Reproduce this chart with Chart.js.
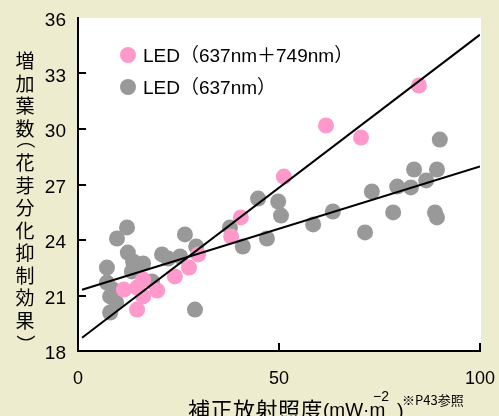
<!DOCTYPE html>
<html><head><meta charset="utf-8">
<script src="https://cdn.jsdelivr.net/npm/chart.js@4/dist/chart.umd.min.js"></script>
<style>
html,body{margin:0;padding:0;background:#EEECCE;overflow:hidden;}
#wrap{width:499px;height:416px;position:relative;}
canvas{display:block;}
</style></head><body>
<div id="wrap"><canvas id="c" width="499" height="416"></canvas></div>
<script>
// ---- data ----
const seriesLabels = ['LED（637nm＋749nm）', 'LED（637nm）'];
const pinkX = [11.4, 14.7, 14.7, 16.2, 16.2, 19.7, 24.1, 27.6, 29.9, 38.1, 40.5, 51.2, 61.7, 70.4, 84.8];
const pinkY = [21.32, 20.24, 21.43, 21.86, 20.95, 21.27, 22.03, 22.51, 23.22, 24.19, 25.22, 27.43, 30.19, 29.54, 32.35];
const grayX = [7.2, 7.2, 8.0, 8.7, 8.0, 9.5, 9.7, 12.2, 12.4, 13.7, 13.4, 16.2, 18.4, 20.9, 22.4, 25.4, 26.6, 29.4, 29.1,
               37.8, 41.0, 44.8, 49.8, 50.5, 47.0, 58.5, 63.4, 71.4, 73.1, 78.4, 79.4, 82.8, 83.6, 86.6, 89.3, 90.0, 88.8, 89.3];
const grayY = [22.51, 21.70, 20.95, 21.32, 20.08, 20.62, 24.08, 24.68, 23.32, 22.84, 22.30, 22.73, 21.76, 23.22, 23.00, 23.11, 24.30, 23.65, 20.24,
               24.68, 23.65, 26.24, 26.08, 25.32, 24.08, 24.84, 25.54, 24.41, 26.62, 25.49, 26.89, 26.84, 27.81, 27.22, 27.81, 29.43, 25.49, 25.22];
const pinkFitX = [1, 100];
const pinkFitY = [18.72, 35.10];
const grayFitX = [1, 100];
const grayFitY = [21.31, 27.97];
const xTicks = [0, 50, 100];
const yTicks = [18, 21, 24, 27, 30, 33, 36];
const yTitle = '増加葉数（花芽分化抑制効果）';
const xTitleMain = '補正放射照度';
const xTitleUnit = '(mW·m';
const xTitleSup = '−2';
const xTitleClose = ')';
const xTitleNote = '※P43参照';

// ---- styles ----
const PINK = '#FF99CC';
const GRAY = '#999999';
const BG = '#EEECCE';
const LATIN = '"Liberation Sans", Arial, "Noto Sans CJK JP", sans-serif';
const CJK = '"Noto Sans CJK JP", "Liberation Sans", sans-serif';

const pts = (xs, ys) => xs.map((x, i) => ({x: x, y: ys[i]}));

const decor = {
  id: 'decor',
  beforeDraw(chart) {
    const {ctx, chartArea: a} = chart;
    ctx.save();
    ctx.fillStyle = BG;
    ctx.fillRect(0, 0, chart.width, chart.height);
    ctx.fillStyle = '#FFFFFF';
    ctx.fillRect(a.left, a.top, a.right - a.left + 1, a.bottom - a.top);
    ctx.restore();
  },
  afterDraw(chart) {
    const {ctx, chartArea: a, scales} = chart;
    const xs = scales.x, ys = scales.y;
    ctx.save();
    // inward tick marks
    ctx.strokeStyle = '#000';
    ctx.lineWidth = 2;
    ctx.beginPath();
    yTicks.forEach(v => {
      if (v <= ys.min || v >= ys.max) return;
      const py = Math.round(ys.getPixelForValue(v));
      ctx.moveTo(a.left, py); ctx.lineTo(a.left + 8, py);
    });
    xTicks.forEach(v => {
      if (v <= xs.min) return;
      const px = Math.round(xs.getPixelForValue(v));
      ctx.moveTo(px, a.bottom); ctx.lineTo(px, a.bottom - 8);
    });
    ctx.stroke();

    // legend
    const ds = chart.data.datasets;
    const legendRows = [{i: 0, cy: 55}, {i: 1, cy: 87}];
    legendRows.forEach(r => {
      ctx.fillStyle = ds[r.i].backgroundColor;
      ctx.beginPath(); ctx.arc(128, r.cy, 8, 0, Math.PI * 2); ctx.fill();
      ctx.fillStyle = '#000';
      ctx.font = '19px ' + LATIN;
      ctx.textAlign = 'left';
      ctx.textBaseline = 'alphabetic';
      ctx.fillText(ds[r.i].label, 143, r.cy + 7);
    });

    // vertical y title
    ctx.font = '19px ' + CJK;
    ctx.fillStyle = '#000';
    ctx.textAlign = 'center';
    ctx.textBaseline = 'middle';
    let y = 61;
    const chars = Array.from(yTitle);
    chars.forEach((ch, k) => {
      const isParen = (ch === '（' || ch === '）');
      if (isParen) {
        const m = ctx.measureText(ch);
        const inkCenter = (m.actualBoundingBoxRight - m.actualBoundingBoxLeft) / 2;
        const pc = (k === 0) ? y : y - 22.5 / 2 + 6;
        ctx.save();
        ctx.translate(25, pc);
        ctx.rotate(Math.PI / 2);
        ctx.fillText(ch, -inkCenter, 0);
        ctx.restore();
        y = pc + 6 + 22.5 / 2;
      } else {
        ctx.fillText(ch, 25, y);
        y += 22.5;
      }
    });

    // x title
    ctx.textAlign = 'left';
    ctx.textBaseline = 'alphabetic';
    ctx.font = '22px ' + CJK;
    ctx.letterSpacing = '0.5px';
    ctx.fillText(xTitleMain, 188, 418);
    ctx.letterSpacing = '0px';
    ctx.font = '19px ' + LATIN;
    ctx.fillText(xTitleUnit, 323, 416);
    ctx.font = '14px ' + LATIN;
    ctx.fillText(xTitleSup, 373, 401);
    ctx.font = '20px ' + LATIN;
    ctx.fillText(xTitleClose, 397, 418);
    ctx.font = '13px ' + CJK;
    ctx.fillText(xTitleNote, 402, 405);
    ctx.restore();
  }
};

new Chart(document.getElementById('c'), {
  type: 'scatter',
  data: {
    datasets: [
      {label: seriesLabels[0], data: pts(pinkX, pinkY), backgroundColor: PINK, borderColor: PINK,
       pointRadius: 8, pointHoverRadius: 8, pointBorderWidth: 0, order: 2},
      {label: seriesLabels[1], data: pts(grayX, grayY), backgroundColor: GRAY, borderColor: GRAY,
       pointRadius: 8, pointHoverRadius: 8, pointBorderWidth: 0, order: 3},
      {label: 'fit1', data: pts(pinkFitX, pinkFitY), showLine: true, borderColor: '#000', borderWidth: 2,
       pointRadius: 0, pointHoverRadius: 0, order: 0},
      {label: 'fit2', data: pts(grayFitX, grayFitY), showLine: true, borderColor: '#000', borderWidth: 2,
       pointRadius: 0, pointHoverRadius: 0, order: 1}
    ]
  },
  options: {
    responsive: false,
    devicePixelRatio: 1,
    animation: false,
    layout: {padding: {top: 18, right: 19, left: 0, bottom: 0}},
    plugins: {legend: {display: false}, tooltip: {enabled: false}},
    scales: {
      x: {
        type: 'linear', min: 0, max: 100,
        afterBuildTicks: s => { s.ticks = xTicks.map(v => ({value: v})); },
        afterFit: s => { s.height = 65; s.paddingLeft = 0; s.paddingRight = 0; },
        grid: {display: true, drawOnChartArea: false, drawTicks: false},
        border: {display: true, color: '#000', width: 2},
        ticks: {color: '#000', font: {family: LATIN, size: 18}, padding: 17, maxRotation: 0}
      },
      y: {
        type: 'linear', min: 18, max: 36,
        afterBuildTicks: s => { s.ticks = yTicks.map(v => ({value: v})); },
        afterFit: s => { s.width = 78; s.paddingTop = 0; s.paddingBottom = 0; },
        grid: {display: true, drawOnChartArea: false, drawTicks: false},
        border: {display: true, color: '#000', width: 2},
        ticks: {color: '#000', font: {family: LATIN, size: 19}, padding: 12, labelOffset: 3}
      }
    }
  },
  plugins: [decor]
});
</script>
</body></html>
